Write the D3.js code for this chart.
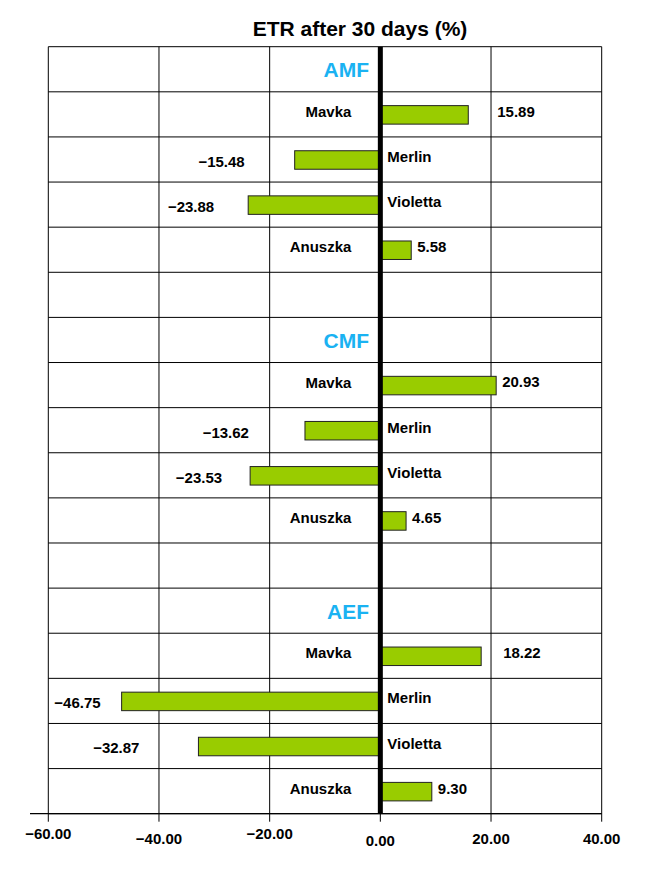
<!DOCTYPE html>
<html>
<head>
<meta charset="utf-8">
<script src="https://cdn.jsdelivr.net/npm/d3@7"></script>
<style>
  body { margin: 0; background: #fff; }
  text { font-family: Arial, "Liberation Sans", sans-serif; font-weight: bold; }
</style>
</head>
<body>
<div id="chart"></div>
<script>
// data
var groups = ["AMF", "CMF", "AEF"];
var cultivars = ["Mavka", "Merlin", "Violetta", "Anuszka"];
var amfValues = [15.89, -15.48, -23.88, 5.58];
var cmfValues = [20.93, -13.62, -23.53, 4.65];
var aefValues = [18.22, -46.75, -32.87, 9.30];
var xTicks = [-60, -40, -20, 0, 20, 40];

// hand nudges of the value labels (px), as they sit in the original
var labelShift = [23, -44, -28, 0, 0, -50, -22, 0, 16, -15, -53, 0];
// tick labels are not on one line in the original
var tickDy = [-5, 0, -5, 2, 0, 0];

var width = 651, height = 886;
var plotTop = 46.7, plotBottom = 813.7, plotLeft = 48.3, plotRight = 601.7;

// build the row list: group header, 4 cultivars, blank spacer
var valuesByGroup = [amfValues, cmfValues, aefValues];
var rows = [];
groups.forEach(function(g, gi) {
    rows.push({ id: "g" + gi, group: g });
    cultivars.forEach(function(c, ci) {
        rows.push({ id: "g" + gi + "c" + ci, name: c, value: valuesByGroup[gi][ci] });
    });
    if (gi < groups.length - 1) rows.push({ id: "s" + gi });
});

var svg = d3.select("#chart").append("svg")
    .attr("width", width)
    .attr("height", height);

svg.append("rect").attr("width", width).attr("height", height).attr("fill", "#fff");

var x = d3.scaleLinear().domain([-60, 40]).range([plotLeft, plotRight]);
var y = d3.scaleBand().domain(rows.map(function(d) { return d.id; })).range([plotTop, plotBottom]).paddingInner(0);

// title
svg.append("text")
    .attr("x", 360).attr("y", 36)
    .attr("text-anchor", "middle")
    .style("font-size", "21px")
    .text("ETR after 30 days (%)");

// horizontal grid (row borders)
var rowEdges = rows.map(function(d) { return y(d.id); }).concat([plotBottom]);
svg.selectAll(".hline").data(rowEdges).enter().append("line")
    .attr("class", "hline")
    .attr("x1", plotLeft).attr("x2", plotRight)
    .attr("y1", function(d) { return d; }).attr("y2", function(d) { return d; })
    .attr("stroke", "#000").attr("stroke-width", 1);

// vertical grid
svg.selectAll(".vline").data(xTicks.filter(function(t) { return t !== 0; })).enter().append("line")
    .attr("class", "vline")
    .attr("x1", function(d) { return x(d); }).attr("x2", function(d) { return x(d); })
    .attr("y1", plotTop).attr("y2", plotBottom)
    .attr("stroke", "#000").attr("stroke-width", 1);

// bottom axis
var axis = svg.append("g").attr("transform", "translate(0," + plotBottom + ")");
axis.append("line").attr("x1", 30).attr("x2", plotRight).attr("y1", 0).attr("y2", 0)
    .attr("stroke", "#000").attr("stroke-width", 1.3);
axis.selectAll(".tk").data(xTicks).enter().append("line")
    .attr("class", "tk")
    .attr("x1", function(d) { return x(d); }).attr("x2", function(d) { return x(d); })
    .attr("y1", 0).attr("y2", 8)
    .attr("stroke", "#000").attr("stroke-width", 1);
axis.selectAll(".tl").data(xTicks).enter().append("text")
    .attr("class", "tl")
    .attr("x", function(d) { return x(d); })
    .attr("y", function(d, i) { return 30 + tickDy[i]; })
    .attr("text-anchor", "middle")
    .style("font-size", "15px")
    .text(function(d) { return d3.format(".2f")(d); });

// bars
var barRows = rows.filter(function(d) { return d.value !== undefined; });
var bh = 18.5;
svg.selectAll(".bar").data(barRows).enter().append("rect")
    .attr("class", "bar")
    .attr("x", function(d) { return x(Math.min(0, d.value)); })
    .attr("width", function(d) { return Math.abs(x(d.value) - x(0)); })
    .attr("y", function(d) { return y(d.id) + y.bandwidth() / 2 - bh / 2 + 0.5; })
    .attr("height", bh)
    .attr("fill", "#99CC00")
    .attr("stroke", "#222").attr("stroke-width", 1);

// zero line
svg.append("line")
    .attr("x1", x(0)).attr("x2", x(0))
    .attr("y1", plotTop).attr("y2", plotBottom)
    .attr("stroke", "#000").attr("stroke-width", 5);

// group headers
svg.selectAll(".grp").data(rows.filter(function(d) { return d.group; })).enter().append("text")
    .attr("class", "grp")
    .attr("x", 369)
    .attr("y", function(d) { return y(d.id) + y.bandwidth() / 2 + 8; })
    .attr("text-anchor", "end")
    .attr("fill", "#1AB2F2")
    .style("font-size", "21px")
    .text(function(d) { return d.group; });

// cultivar labels on the opposite side of the bar
svg.selectAll(".cat").data(barRows).enter().append("text")
    .attr("class", "cat")
    .attr("x", function(d) { return d.value > 0 ? x(0) - 29 : x(0) + 7; })
    .attr("y", function(d) { return y(d.id) + y.bandwidth() / 2 + 2.5; })
    .attr("text-anchor", function(d) { return d.value > 0 ? "end" : "start"; })
    .style("font-size", "15px")
    .text(function(d) { return d.name; });

// value labels
svg.selectAll(".val").data(barRows).enter().append("text")
    .attr("class", "val")
    .attr("x", function(d, i) { return (d.value > 0 ? x(d.value) + 6 : x(d.value) - 6) + labelShift[i]; })
    .attr("y", function(d) { return y(d.id) + y.bandwidth() / 2 + 5.4 + (d.value > 0 ? -3 : 2); })
    .attr("text-anchor", function(d) { return d.value > 0 ? "start" : "end"; })
    .style("font-size", "15px")
    .text(function(d) { return d3.format(".2f")(d.value); });
</script>
</body>
</html>
